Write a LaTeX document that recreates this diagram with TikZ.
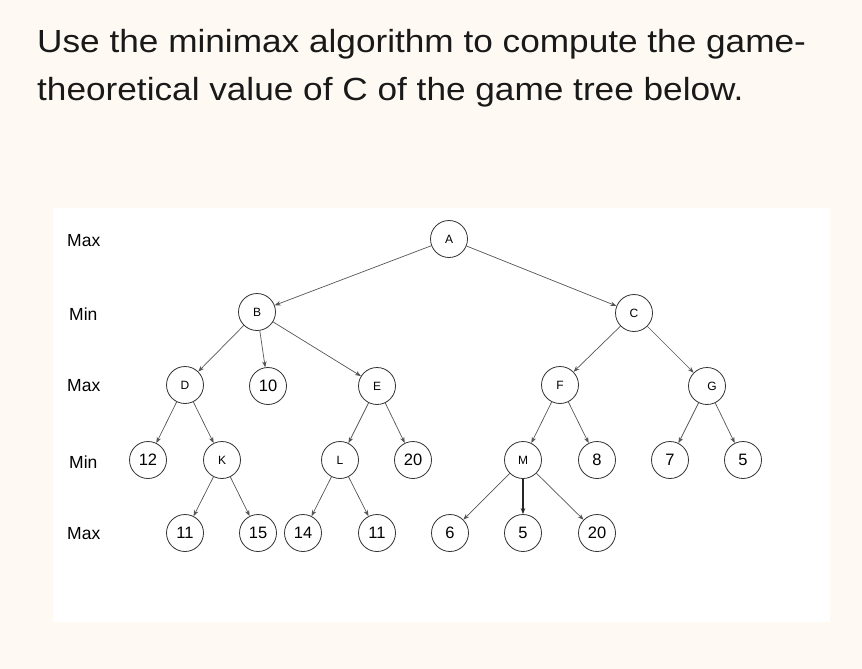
\documentclass[tikz,border=0pt]{standalone}
\usepackage{fontspec}
\usepackage{graphicx}
\setmainfont{Liberation Sans}
\usetikzlibrary{arrows.meta}
\definecolor{bgcream}{RGB}{254,250,243}
\definecolor{edgegray}{RGB}{85,85,85}
\definecolor{titleblack}{RGB}{25,25,25}
\begin{document}
\begin{tikzpicture}[x=1pt,y=-1pt,
  tn/.style={circle,draw=black!80,line width=0.8pt,minimum size=37pt,inner sep=0pt},
  lt/.style={font=\fontsize{12}{12}\selectfont},
  nm/.style={font=\fontsize{16.5}{16.5}\selectfont},
  lv/.style={font=\fontsize{17.5}{17.5}\selectfont,anchor=west,inner sep=0pt},
  tt/.style={anchor=base west,inner sep=0pt,text=titleblack,font=\fontsize{32}{32}\selectfont},
  ed/.style={draw=edgegray,line width=0.7pt,-{Stealth[length=6pt,width=4.5pt]}},
  edb/.style={draw=black!85,line width=1.1pt,-{Stealth[length=6pt,width=4.5pt]}}]
\useasboundingbox (0,0) rectangle (862,669);
\fill[bgcream] (0,0) rectangle (862,669);
\fill[white] (53,208) rectangle (830,622);
% title
\node[tt] (t1) at (37,53) {\scalebox{1.10}[1]{Use the minimax algorithm to compute the game-}};
\node[tt] (t2) at (37,100) {\scalebox{1.10}[1]{theoretical value of C of the game tree below.}};
% level labels
\node[lv] (l1) at (67,241) {Max};
\node[lv] (l2) at (69,314) {Min};
\node[lv] (l3) at (67,386) {Max};
\node[lv] (l4) at (69,462) {Min};
\node[lv] (l5) at (67,534) {Max};
% nodes
\node[tn,lt] (A) at (449,239) {A};
\node[tn,lt] (B) at (257,312) {B};
\node[tn,lt] (C) at (634,313) {C};
\node[tn,lt] (D) at (185,385) {D};
\node[tn,nm] (n10) at (268,386) {10};
\node[tn,lt] (E) at (377,386) {E};
\node[tn,lt] (F) at (560,385) {F};
\node[tn,lt] (G) at (707,386) {\hspace*{10pt}G};
\node[tn,nm] (n12) at (148,460) {12};
\node[tn,lt] (K) at (222,460) {K};
\node[tn,lt] (L) at (340,460) {L};
\node[tn,nm] (n20) at (413,460) {20};
\node[tn,lt] (M) at (523,460) {M};
\node[tn,nm] (n8) at (597,460) {8};
\node[tn,nm] (n7) at (670,460) {7};
\node[tn,nm] (n5a) at (743,460) {5};
\node[tn,nm] (n11a) at (185,533) {11};
\node[tn,nm] (n15) at (258,533) {15};
\node[tn,nm] (n14) at (303,533) {14};
\node[tn,nm] (n11b) at (377,533) {11};
\node[tn,nm] (n6) at (450,533) {6};
\node[tn,nm] (n5b) at (523,533) {5};
\node[tn,nm] (n20b) at (597,533) {20};
% edges
\draw[ed] (A) -- (B);
\draw[ed] (A) -- (C);
\draw[ed] (B) -- (D);
\draw[ed] (B) -- (n10);
\draw[ed] (B) -- (E);
\draw[ed] (C) -- (F);
\draw[ed] (C) -- (G);
\draw[ed] (D) -- (n12);
\draw[ed] (D) -- (K);
\draw[ed] (E) -- (L);
\draw[ed] (E) -- (n20);
\draw[ed] (F) -- (M);
\draw[ed] (F) -- (n8);
\draw[ed] (G) -- (n7);
\draw[ed] (G) -- (n5a);
\draw[ed] (K) -- (n11a);
\draw[ed] (K) -- (n15);
\draw[ed] (L) -- (n14);
\draw[ed] (L) -- (n11b);
\draw[ed] (M) -- (n6);
\draw[edb] (M) -- (n5b);
\draw[ed] (M) -- (n20b);
\end{tikzpicture}
\end{document}
